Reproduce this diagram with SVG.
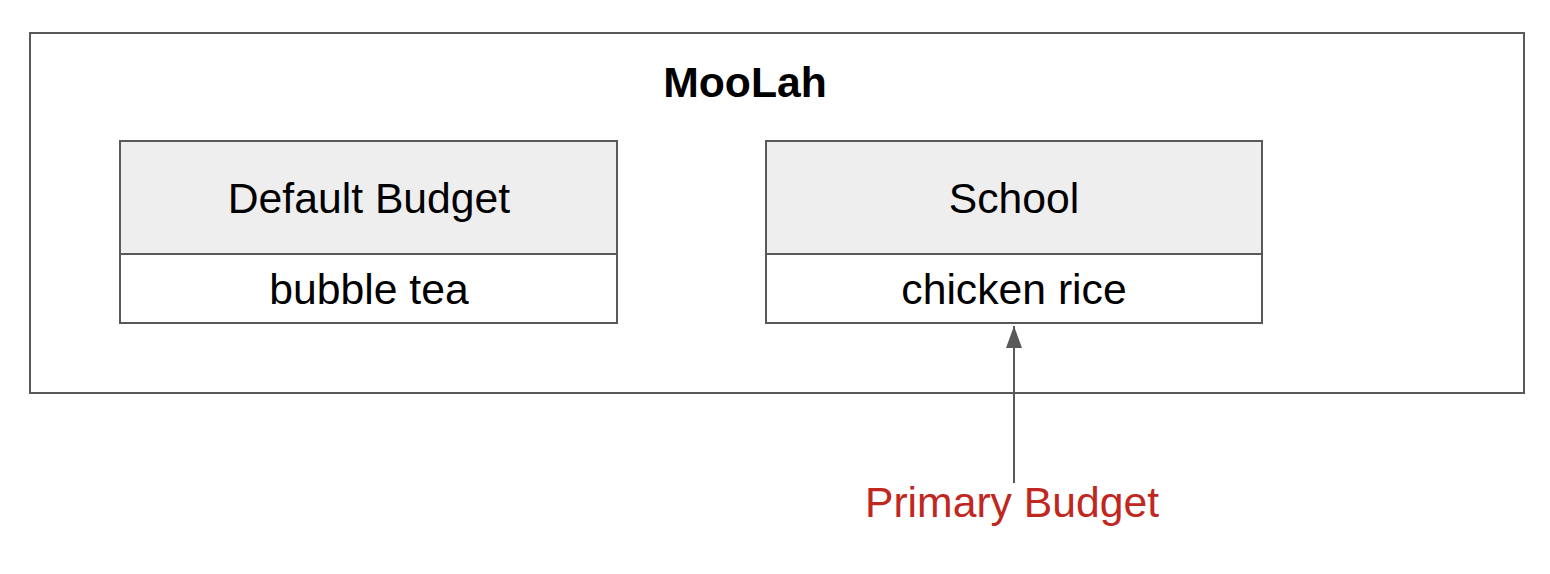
<svg xmlns="http://www.w3.org/2000/svg" width="1550" height="574" viewBox="0 0 1550 574">
<style>
.box{fill:#ffffff;stroke:#595959;stroke-width:2}
.hdr{fill:#eeeeee;stroke:#595959;stroke-width:2}
.t{font-family:"Liberation Sans",Arial,sans-serif;font-size:42.7px;fill:#000000;text-anchor:middle}
.b{font-weight:bold}
.red{fill:#c0281f}
.conn{stroke:#595959;stroke-width:2;fill:none}
</style>
<defs>
<marker id="arr" markerUnits="userSpaceOnUse" markerWidth="24" markerHeight="18" refX="23" refY="9" orient="auto" viewBox="0 0 24 18">
<polygon points="23,9 1,1 1,17" fill="#595959"/>
</marker>
</defs>
<rect width="1550" height="574" fill="#ffffff"/>
<g id="moolah">
<rect class="box" x="30" y="33" width="1494" height="360"/>
<text class="t b" x="745" y="97">MooLah</text>
</g>
<g id="default-budget">
<rect class="hdr" x="120" y="141" width="497" height="113"/>
<rect class="box" x="120" y="254" width="497" height="69"/>
<text class="t" x="369" y="213">Default Budget</text>
<text class="t" x="369" y="304">bubble tea</text>
</g>
<g id="school">
<rect class="hdr" x="766" y="141" width="496" height="113"/>
<rect class="box" x="766" y="254" width="496" height="69"/>
<text class="t" x="1014" y="213">School</text>
<text class="t" x="1014" y="304">chicken rice</text>
</g>
<g id="primary-budget">
<text class="t red" x="1012" y="517">Primary Budget</text>
</g>
<g id="connectors">
<line class="conn" x1="1014" y1="483" x2="1014" y2="326" marker-end="url(#arr)"/>
</g>
</svg>
